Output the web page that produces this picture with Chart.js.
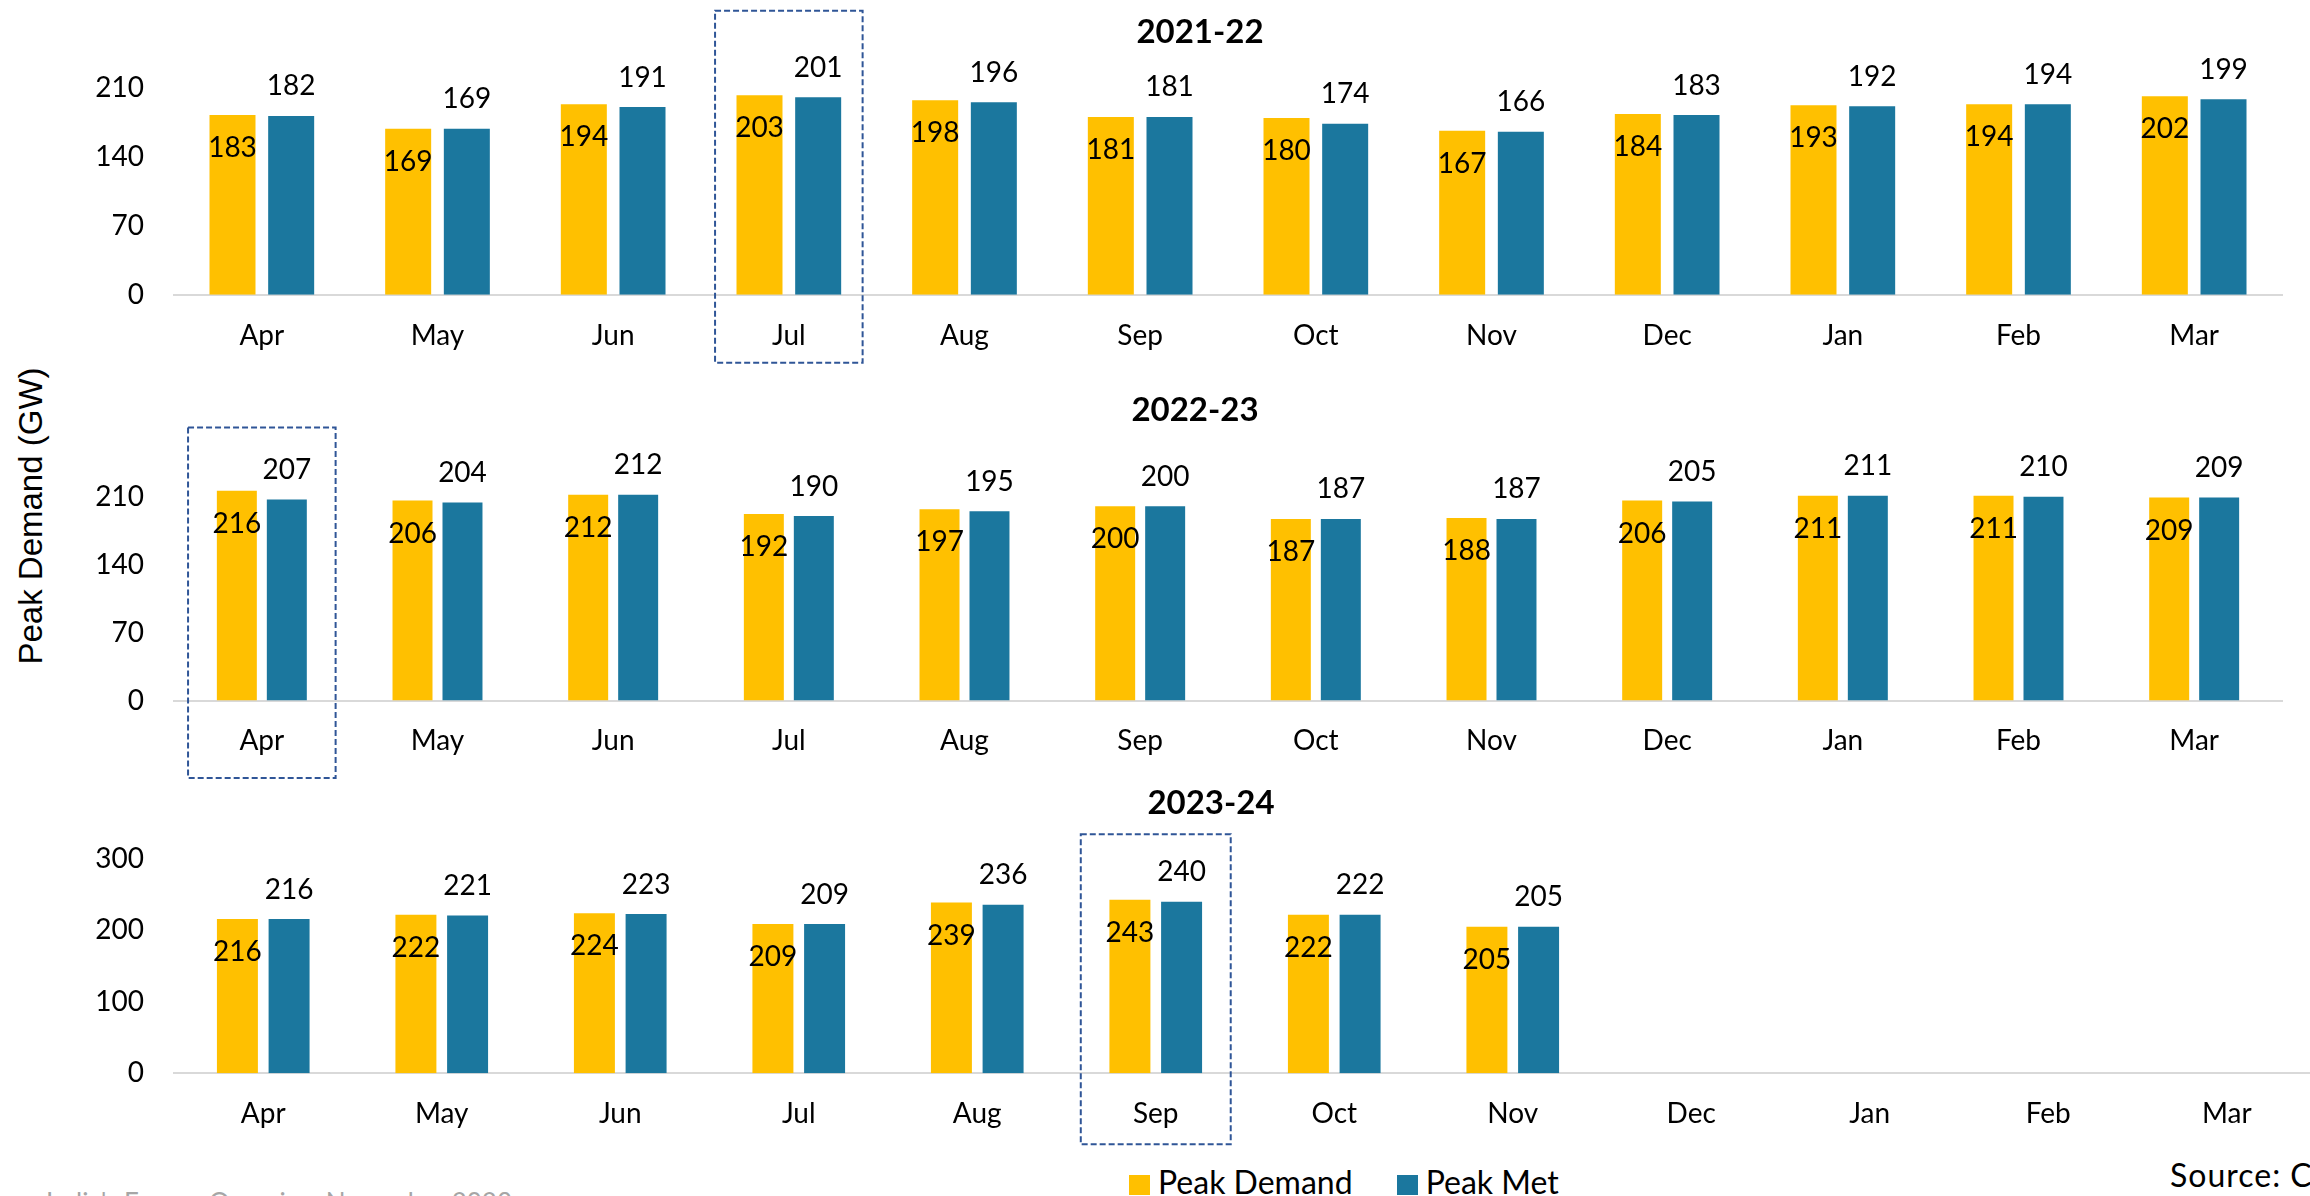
<!DOCTYPE html>
<html>
<head>
<meta charset="utf-8">
<title>Peak Demand and Peak Met</title>
<script src="https://cdn.jsdelivr.net/npm/chart.js@4.4.0/dist/chart.umd.min.js"></script>
<style>
  html, body { margin: 0; padding: 0; background: #fff; }
  body { width: 2310px; height: 1196px; overflow: hidden; position: relative; font-family: Lato, "Open Sans", sans-serif; color: #000; }
  canvas { position: absolute; left: 0; }
  .panel-title { position: absolute; font-weight: 700; font-size: 33px; line-height: 1; white-space: nowrap; transform: translate(-50%, -50%); }
  #ytitle { position: absolute; left: 30px; top: 516px; font-family: "Liberation Sans", Arial, sans-serif; font-size: 33px; line-height: 1; white-space: nowrap; transform: translate(-50%, -50%) rotate(-90deg); }
  #legend { position: absolute; left: 1129px; top: 1163px; display: flex; align-items: flex-start; font-size: 32px; line-height: 38.4px; white-space: nowrap; }
  #legend .item { display: flex; align-items: flex-start; margin-right: 44px; }
  #legend .swatch { width: 21px; height: 20px; margin-top: 12px; margin-right: 8px; }
  #source { position: absolute; left: 2170px; top: 1156px; font-size: 32px; line-height: 38.4px; letter-spacing: 1px; white-space: nowrap; }
  #footer { position: absolute; left: 46px; top: 1187px; font-size: 26px; line-height: 31px; color: #a6a6a6; white-space: nowrap; }
</style>
</head>
<body>
<div id="ytitle">Peak Demand (GW)</div>
<div id="legend"></div>
<div id="source">Source: CEA</div>
<div id="footer">India's Energy Overview November 2023</div>

<script>
const months = ['Apr', 'May', 'Jun', 'Jul', 'Aug', 'Sep', 'Oct', 'Nov', 'Dec', 'Jan', 'Feb', 'Mar'];
const seriesNames = ['Peak Demand', 'Peak Met'];
const seriesColors = ['#FFC000', '#1B779E'];

const demand2122 = [183, 169, 194, 203, 198, 181, 180, 167, 184, 193, 194, 202];
const met2122    = [182, 169, 191, 201, 196, 181, 174, 166, 183, 192, 194, 199];

const demand2223 = [216, 206, 212, 192, 197, 200, 187, 188, 206, 211, 211, 209];
const met2223    = [207, 204, 212, 190, 195, 200, 187, 187, 205, 211, 210, 209];

const demand2324 = [216, 222, 224, 209, 239, 243, 222, 205, null, null, null, null];
const met2324    = [216, 221, 223, 209, 236, 240, 222, 205, null, null, null, null];

// one canvas per financial year, stacked
const panels = [
  { title: '2021-22', demand: demand2122, met: met2122, max: 240, step: 70,
    top: 0, width: 2310, height: 370, plotTop: 59, plotBottom: 294.7, plotRight: 2282,
    catPct: 0.668, barPct: 0.784, mark: 3, markAbove: 284, markBelow: 68,
    titleX: 1200, titleY: 29.5 },
  { title: '2022-23', demand: demand2223, met: met2223, max: 240, step: 70,
    top: 380, width: 2310, height: 410, plotTop: 87.5, plotBottom: 320.5, plotRight: 2282,
    catPct: 0.569, barPct: 0.8, mark: 0, markAbove: 273, markBelow: 77.5,
    titleX: 1195, titleY: 407.5 },
  { title: '2023-24', demand: demand2324, met: met2324, max: 300, step: 100,
    top: 790, width: 2330, height: 370, plotTop: 69, plotBottom: 283.3, plotRight: 2316,
    catPct: 0.579, barPct: 0.793, mark: 5, markAbove: 239, markBelow: 71,
    titleX: 1211, titleY: 801 }
];

Chart.defaults.font.family = 'Lato, "Open Sans", sans-serif';
Chart.defaults.color = '#000';

// value labels: demand inside the top of its bar, met above its bar
const barValues = {
  id: 'barValues',
  afterDatasetsDraw(chart) {
    const ctx = chart.ctx;
    ctx.save();
    ctx.font = '28px Lato, "Open Sans", sans-serif';
    ctx.fillStyle = '#000';
    ctx.textAlign = 'center';
    ctx.textBaseline = 'middle';
    chart.data.datasets.forEach((ds, di) => {
      chart.getDatasetMeta(di).data.forEach((bar, i) => {
        const v = ds.data[i];
        if (v == null) return;
        const y = di === 0 ? bar.y + 33 : bar.y - 29.5;
        ctx.fillText(String(v), bar.x, y);
      });
    });
    ctx.restore();
  }
};

// dashed frame around the record month
const markMonth = {
  id: 'markMonth',
  afterDraw(chart, args, opts) {
    if (opts.index == null) return;
    const x = chart.scales.x;
    const { ctx, chartArea } = chart;
    const cx = x.getPixelForValue(opts.index);
    const half = (x.width / months.length) * 0.42;
    ctx.save();
    ctx.strokeStyle = '#2F5597';
    ctx.lineWidth = 2;
    ctx.setLineDash([6, 3]);
    ctx.strokeRect(cx - half, chartArea.bottom - opts.above, half * 2, opts.above + opts.below);
    ctx.restore();
  }
};

panels.forEach(p => {
  const canvas = document.createElement('canvas');
  canvas.width = p.width;
  canvas.height = p.height;
  canvas.style.top = p.top + 'px';
  document.body.appendChild(canvas);

  const t = document.createElement('div');
  t.className = 'panel-title';
  t.textContent = p.title;
  t.style.left = p.titleX + 'px';
  t.style.top = p.titleY + 'px';
  document.body.appendChild(t);

  new Chart(canvas.getContext('2d'), {
    type: 'bar',
    data: {
      labels: months,
      datasets: [p.demand, p.met].map((d, i) => ({
        label: seriesNames[i],
        data: d,
        backgroundColor: seriesColors[i],
        categoryPercentage: p.catPct,
        barPercentage: p.barPct
      }))
    },
    options: {
      responsive: false,
      animation: false,
      layout: { padding: { left: 0, top: p.plotTop, right: p.width - p.plotRight, bottom: 0 } },
      plugins: {
        legend: { display: false },
        tooltip: { enabled: false },
        markMonth: { index: p.mark, above: p.markAbove, below: p.markBelow }
      },
      scales: {
        x: {
          grid: { display: false, drawTicks: false },
          border: { color: '#D9D9D9', width: 2 },
          ticks: { padding: 24, color: '#000', font: { size: 28 }, maxRotation: 0, autoSkip: false },
          afterFit: s => { s.height = p.height - p.plotBottom; }
        },
        y: {
          min: 0,
          max: p.max,
          grid: { display: false, drawTicks: false },
          border: { display: false },
          ticks: { stepSize: p.step, includeBounds: false, padding: 30, color: '#000', font: { size: 28 } },
          afterFit: s => { s.width = 174; }
        }
      }
    },
    plugins: [barValues, markMonth]
  });
});

// legend built from the series
const legend = document.getElementById('legend');
seriesNames.forEach((name, i) => {
  const item = document.createElement('div');
  item.className = 'item';
  const sw = document.createElement('span');
  sw.className = 'swatch';
  sw.style.background = seriesColors[i];
  const label = document.createElement('span');
  label.textContent = name;
  item.appendChild(sw);
  item.appendChild(label);
  legend.appendChild(item);
});
</script>
</body>
</html>
